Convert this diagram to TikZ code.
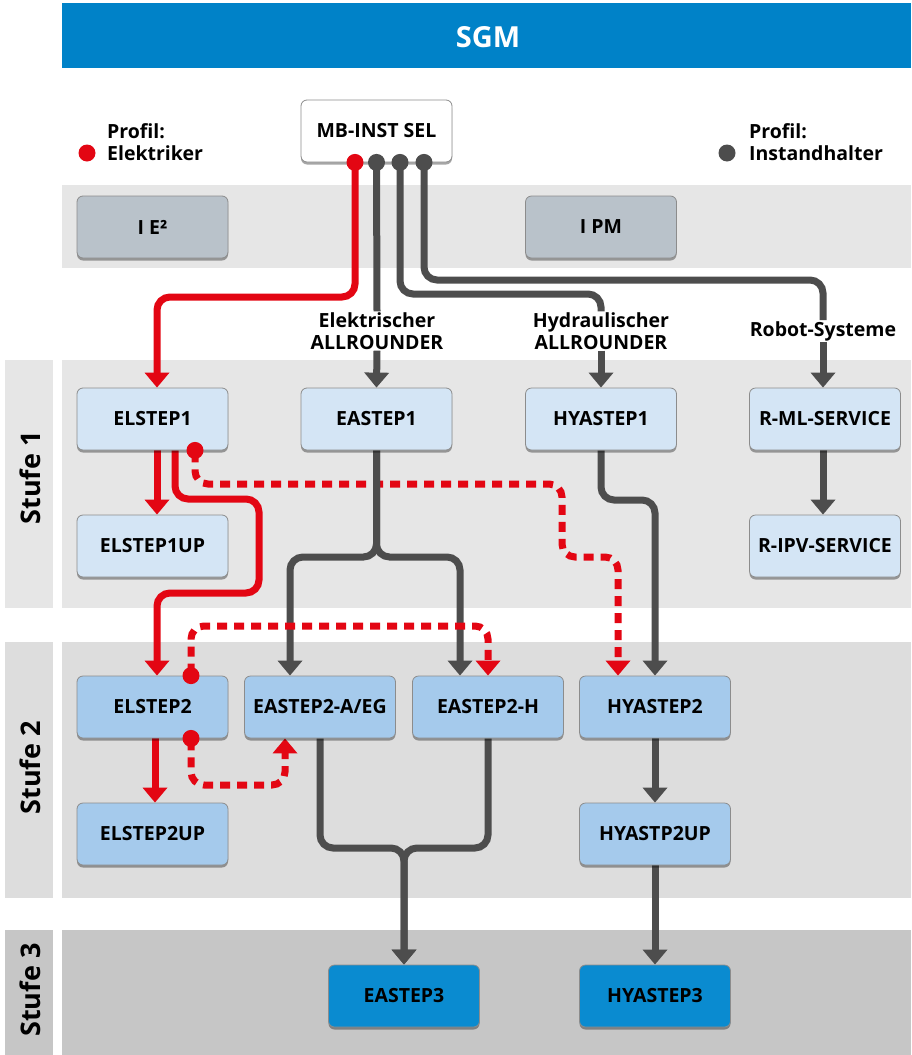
\documentclass[tikz,border=0pt]{standalone}
\usepackage{fontspec}
\setmainfont{Open Sans}
\usetikzlibrary{arrows.meta,shadows,calc}
\definecolor{sgmblue}{HTML}{0082C8}
\definecolor{bandA}{HTML}{E6E6E6}
\definecolor{bandB}{HTML}{DDDDDD}
\definecolor{bandC}{HTML}{C6C6C6}
\definecolor{boxgray}{HTML}{B9C2CA}
\definecolor{boxlight}{HTML}{D4E5F5}
\definecolor{boxmid}{HTML}{A5CAEC}
\definecolor{boxdark}{HTML}{0A8BD0}
\definecolor{boxedge}{HTML}{8C8C8C}
\definecolor{elred}{HTML}{E30613}
\definecolor{dgray}{HTML}{4D4D4D}
\pgfdeclarelayer{bands}
\pgfdeclarelayer{conn}
\pgfsetlayers{bands,conn,main}
\tikzset{
  box/.style={draw=boxedge, line width=0.8pt, rounded corners=6pt, minimum width=151pt, minimum height=62pt, inner sep=0pt,
    font=\fontsize{19.5}{22}\selectfont\bfseries, text=black,
    drop shadow={shadow xshift=0pt, shadow yshift=-2.5pt, fill=black, opacity=0.35}},
  gbox/.style={box, fill=boxgray},
  lbox/.style={box, fill=boxlight},
  mbox/.style={box, fill=boxmid},
  dbox/.style={box, fill=boxdark},
  wbox/.style={box, fill=white},
  tip/.style={-{Triangle[width=24pt,length=15pt]}},
  gline/.style={draw=dgray, line width=7pt, rounded corners=13pt},
  rline/.style={draw=elred, line width=7pt, rounded corners=13pt},
  rdash/.style={draw=elred, line width=7pt, rounded corners=13pt, dash pattern=on 10pt off 7pt},
  lbl/.style={font=\fontsize{19.5}{22}\selectfont\bfseries, align=center, inner sep=1pt},
  stufe/.style={font=\fontsize{27}{30}\selectfont\bfseries, rotate=90},
}
\begin{document}
\begin{tikzpicture}[x=1pt,y=-1pt]
\useasboundingbox (0,0) rectangle (911,1055);
% bands
\begin{pgfonlayer}{bands}
\fill[sgmblue] (62,3) rectangle (911,68);
\fill[bandA] (62,185) rectangle (911,268);
\fill[bandA] (62,360) rectangle (911,608);
\fill[bandA] (5,360) rectangle (53,608);
\fill[bandB] (62,642) rectangle (911,898);
\fill[bandB] (5,642) rectangle (53,898);
\fill[bandC] (62,930) rectangle (911,1055);
\fill[bandC] (5,930) rectangle (53,1055);
\end{pgfonlayer}
\node[text=white, font=\fontsize{29}{32}\selectfont\bfseries] (sgm) at (488,37) {SGM};
\node[stufe] (s1) at (30,478) {Stufe 1};
\node[stufe] (s2) at (30,768) {Stufe 2};
\node[stufe] (s3) at (30,990) {Stufe 3};
% legend
\fill[elred] (87,153) circle (8.5pt);
\node[lbl, align=left, anchor=west] (leg1) at (106,142) {Profil:\\Elektriker};
\fill[dgray] (727,153) circle (8.5pt);
\node[lbl, align=left, anchor=west] (leg2) at (748,142) {Profil:\\Instandhalter};
% labels
\node[lbl] (lab1) at (377,331) {Elektrischer\\ALLROUNDER};
\node[lbl] (lab2) at (601,331) {Hydraulischer\\ALLROUNDER};
\node[lbl] (lab3) at (823,331) {Robot-Systeme};
% boxes
\node[wbox] (mb) at (376.5,131) {MB-INST SEL};
\node[gbox] (ie) at (152.5,227) {I E²};
\node[gbox] (ipm) at (601,227) {I PM};
\node[lbox] (el1) at (152.5,419) {ELSTEP1};
\node[lbox] (ea1) at (376.5,419) {EASTEP1};
\node[lbox] (hy1) at (601,419) {HYASTEP1};
\node[lbox] (rml) at (825,419) {R-ML-SERVICE};
\node[lbox] (el1up) at (152.5,546) {ELSTEP1UP};
\node[lbox] (ripv) at (825,546) {R-IPV-SERVICE};
\node[mbox] (el2) at (152.5,707) {ELSTEP2};
\node[mbox] (ea2a) at (320,707) {EASTEP2-A/EG};
\node[mbox] (ea2h) at (488,707) {EASTEP2-H};
\node[mbox] (hy2) at (655,707) {HYASTEP2};
\node[mbox] (el2up) at (152.5,834) {ELSTEP2UP};
\node[mbox] (hy2up) at (655,834) {HYASTP2UP};
\node[dbox] (ea3) at (404,996) {EASTEP3};
\node[dbox] (hy3) at (655,996) {HYASTEP3};
% connectors
\begin{pgfonlayer}{conn}
\draw[rline, tip] ([xshift=-21.5pt]mb.south) -- (355,297) -- (157,297) -- ([xshift=4.5pt]el1.north);
\draw[gline] (mb.south) -- (lab1.north);
\draw[gline] ([xshift=23.5pt]mb.south) -- (400,294) -- (601,294) -- (lab2.north);
\draw[gline] ([xshift=47.5pt]mb.south) -- (424,280) -- (823,280) -- (lab3.north);
\draw[gline, tip] (lab1.south) -- (ea1.north);
\draw[gline, tip] (lab2.south) -- (hy1.north);
\draw[gline, tip] (lab3.south) -- (lab3.south |- rml.north);
% stufe 1
\draw[rline, tip] ([xshift=4.5pt]el1.south) -- ([xshift=4.5pt]el1up.north);
\draw[rline, tip] ([xshift=22.5pt]el1.south) -- (175,499) -- (259,499) -- (259,593) -- (157,593) -- ([xshift=4.5pt]el2.north);
\draw[rdash, tip] ([xshift=42.5pt,yshift=-2pt]el1.south) -- (195,484) -- (562,484) -- (562,557) -- (618,557) -- ([xshift=-37pt]hy2.north);
\draw[gline, tip] (ea1.south) -- (376.5,557) -- (290,557) -- ([xshift=-30pt]ea2a.north);
\draw[gline, tip] (ea1.south) -- (376.5,557) -- (460,557) -- ([xshift=-28pt]ea2h.north);
\draw[gline, tip] (hy1.south) -- (601,500) -- (655,500) -- (hy2.north);
\draw[gline, tip] (lab3.south |- rml.south) -- (lab3.south |- ripv.north);
% stufe 2
\draw[rdash, tip] ([xshift=38.5pt,yshift=2pt]el2.north) -- (191,626) -- (488,626) -- (ea2h.north);
\draw[rline, tip] ([xshift=2.5pt]el2.south) -- ([xshift=2.5pt]el2up.north);
\draw[rdash, tip] ([xshift=38.5pt,yshift=-2pt]el2.south) -- (191,785) -- (285,785) -- ([xshift=-35pt]ea2a.south);
\draw[gline, tip] (ea2a.south) -- (320,848) -- (404,848) -- (ea3.north);
\draw[gline, tip] (ea2h.south) -- (488,848) -- (404,848) -- (ea3.north);
\draw[gline, tip] (hy2.south) -- (hy2up.north);
\draw[gline, tip] (hy2up.south) -- (hy3.north);
\end{pgfonlayer}
% dots
\fill[elred] ([xshift=-21.5pt]mb.south) circle (8.5pt);
\fill[dgray] (mb.south) circle (8.5pt);
\fill[dgray] ([xshift=23.5pt]mb.south) circle (8.5pt);
\fill[dgray] ([xshift=47.5pt]mb.south) circle (8.5pt);
\fill[elred] ([xshift=42.5pt]el1.south) circle (8.5pt);
\fill[elred] ([xshift=38.5pt]el2.north) circle (8.5pt);
\fill[elred] ([xshift=38.5pt]el2.south) circle (8.5pt);
\end{tikzpicture}
\end{document}
